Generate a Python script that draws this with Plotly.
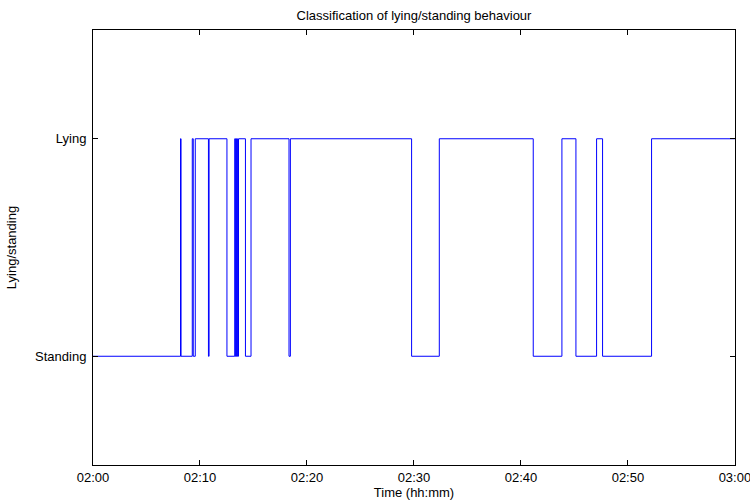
import pandas as pd
import plotly.graph_objects as go

# Minutes after 02:00 at which the classified state changes, and the state held from then on
change_minutes = [0, 8.18, 8.23, 9.28, 9.37, 9.56, 10.79, 10.85, 12.52,
                  13.25, 13.30, 13.35, 13.40, 13.45, 13.50, 13.60, 14.25, 14.77,
                  18.32, 18.45, 29.78, 32.37, 41.15, 43.83, 45.14, 47.07,
                  47.63, 52.21, 60]
states = [0, 1, 0, 1, 0, 1, 0, 1, 0,
          1, 0, 1, 0, 1, 0, 1, 0, 1,
          0, 1, 0, 1, 0, 1, 0, 1,
          0, 1, 1]

state_labels = ['Standing', 'Lying']
tick_times = ['02:00', '02:10', '02:20', '02:30', '02:40', '02:50', '03:00']

start = pd.Timestamp('2013-01-01 02:00:00')
times = [start + pd.Timedelta(minutes=m) for m in change_minutes]

fig = go.Figure()
fig.add_trace(go.Scatter(
    x=times,
    y=states,
    mode='lines',
    line=dict(color='rgb(0,0,255)', width=1, shape='hv'),
    showlegend=False
))

font = dict(family='Liberation Sans, Arial, sans-serif', size=13, color='black')

fig.update_layout(
    width=750,
    height=500,
    margin=dict(l=93, r=15, t=30, b=35, autoexpand=False),
    paper_bgcolor='white',
    plot_bgcolor='white',
    font=font,
    title=dict(text='Classification of lying/standing behaviour',
               xref='paper', x=0.5, xanchor='center',
               yref='container', y=0.97, yanchor='middle',
               font=dict(size=13, color='black')),
)

fig.update_xaxes(
    type='date',
    range=[start, start + pd.Timedelta(minutes=60, seconds=0.5)],
    tickvals=[start + pd.Timedelta(minutes=10 * i) for i in range(len(tick_times))],
    ticktext=tick_times,
    ticks='inside', ticklen=5, tickcolor='black',
    tickfont=dict(size=13), ticklabeloverflow='allow',
    showline=True, linecolor='black', linewidth=1, mirror='ticks',
    showgrid=False, zeroline=False, automargin=False,
    title=dict(text='Time (hh:mm)', standoff=0, font=dict(size=13)),
)

fig.update_yaxes(
    range=[-0.5, 1.5],
    tickvals=[0, 1],
    ticktext=state_labels,
    ticks='inside', ticklen=5, tickcolor='black',
    tickfont=dict(size=13), ticklabelstandoff=3,
    showline=True, linecolor='black', linewidth=1, mirror='ticks',
    showgrid=False, zeroline=False, automargin=False,
    title=dict(text='Lying/standing', standoff=15, font=dict(size=13)),
)

# drop the page's default body margin so the figure sits at the window's corner
fig.write_html("out.html", config={'displayModeBar': False},
               post_script="document.body.style.margin='0';")
